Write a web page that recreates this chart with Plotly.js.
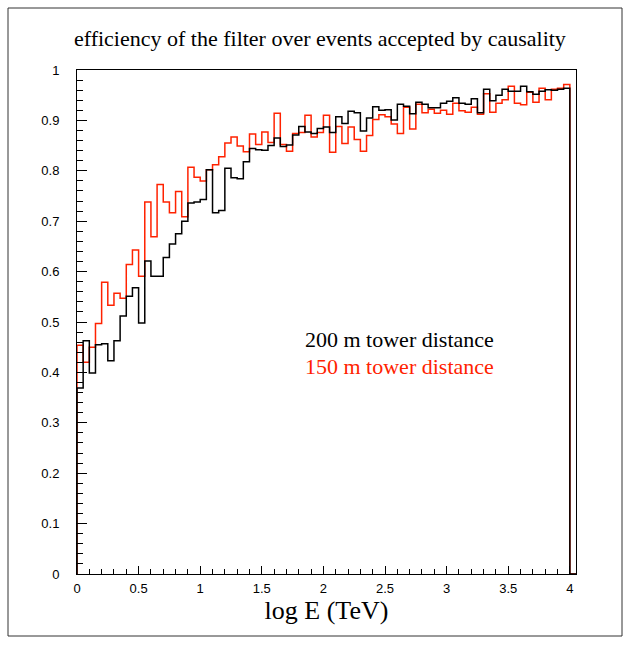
<!DOCTYPE html>
<html>
<head>
<meta charset="utf-8">
<script src="https://cdn.plot.ly/plotly-3.0.1.min.js"></script>
<style>
  html, body { margin: 0; padding: 0; background: #ffffff; }
  #chart { width: 631px; height: 646px; }
</style>
</head>
<body>
<div id="chart"></div>
<script>
// Histogram binning: 0 .. 4 in log E (TeV), 0.05 wide bins (axis runs to 4.05)
const binStart = 0;
const binWidth = 0.05;
const axisMax = 4.05;

// efficiency, 200 m tower distance (black)
const eff200m = [
  0.369, 0.463, 0.399, 0.455, 0.457, 0.423, 0.463, 0.512, 0.551, 0.568,
  0.498, 0.621, 0.591, 0.591, 0.628, 0.655, 0.675, 0.700, 0.736, 0.738,
  0.743, 0.802, 0.717, 0.721, 0.805, 0.786, 0.784, 0.818, 0.844, 0.842,
  0.841, 0.850, 0.865, 0.848, 0.851, 0.871, 0.888, 0.877, 0.874, 0.884,
  0.887, 0.876, 0.907, 0.894, 0.918, 0.915, 0.879, 0.905, 0.927, 0.920,
  0.921, 0.901, 0.932, 0.928, 0.913, 0.936, 0.932, 0.925, 0.925, 0.934,
  0.938, 0.945, 0.934, 0.932, 0.943, 0.915, 0.962, 0.939, 0.950, 0.962,
  0.958, 0.958, 0.968, 0.957, 0.952, 0.958, 0.961, 0.960, 0.962, 0.964
];

// efficiency, 150 m tower distance (red)
const eff150m = [
  0.454, 0.420, 0.450, 0.497, 0.579, 0.533, 0.557, 0.547, 0.614, 0.643,
  0.591, 0.738, 0.669, 0.773, 0.738, 0.717, 0.759, 0.709, 0.807, 0.787,
  0.780, 0.802, 0.812, 0.828, 0.855, 0.867, 0.849, 0.838, 0.873, 0.852,
  0.877, 0.856, 0.914, 0.852, 0.839, 0.874, 0.876, 0.910, 0.867, 0.876,
  0.910, 0.837, 0.888, 0.854, 0.887, 0.862, 0.839, 0.870, 0.902, 0.911,
  0.907, 0.893, 0.874, 0.926, 0.883, 0.932, 0.915, 0.922, 0.914, 0.920,
  0.912, 0.934, 0.919, 0.916, 0.926, 0.912, 0.953, 0.916, 0.934, 0.941,
  0.968, 0.934, 0.931, 0.956, 0.936, 0.964, 0.941, 0.962, 0.964, 0.971
];

const yTickVals = [0, 0.1, 0.2, 0.3, 0.4, 0.5, 0.6, 0.7, 0.8, 0.9, 1];
const yTickText = ["0", "0.1", "0.2", "0.3", "0.4", "0.5", "0.6", "0.7", "0.8", "0.9", "1"];
const xTickVals = [0, 0.5, 1, 1.5, 2, 2.5, 3, 3.5, 4];
const xTickText = ["0", "0.5", "1", "1.5", "2", "2.5", "3", "3.5", "4"];

const titleText = "efficiency of the filter over events accepted by causality";
const xTitleText = "log E (TeV)";
const label200 = "200 m tower distance";
const label150 = "150 m tower distance";

// Build a ROOT-like histogram outline (starts and ends on zero)
function histOutline(vals) {
  const xs = [binStart], ys = [0];
  for (let i = 0; i < vals.length; i++) {
    xs.push(binStart + i * binWidth);
    ys.push(vals[i]);
  }
  const end = binStart + vals.length * binWidth;
  xs.push(end); ys.push(0);
  xs.push(axisMax); ys.push(0);
  return {x: xs, y: ys};
}

const h150 = histOutline(eff150m);
const h200 = histOutline(eff200m);

const traces = [
  {x: h150.x, y: h150.y, type: 'scatter', mode: 'lines', line: {shape: 'hv', color: '#ff2200', width: 1.5}, hoverinfo: 'skip', showlegend: false},
  {x: h200.x, y: h200.y, type: 'scatter', mode: 'lines', line: {shape: 'hv', color: '#000000', width: 1.5}, hoverinfo: 'skip', showlegend: false}
];

const M = {l: 77, r: 55, t: 70, b: 72};
const W = 631, H = 646;
const pw = W - M.l - M.r, ph = H - M.t - M.b;
function px2paperX(px) { return (px - M.l) / pw; }
function py2paperY(py) { return (H - M.b - py) / ph; }

const layout = {
  width: W, height: H,
  margin: M,
  paper_bgcolor: '#ffffff',
  plot_bgcolor: '#ffffff',
  showlegend: false,
  title: {
    text: titleText,
    font: {family: 'Liberation Serif, Times New Roman, serif', size: 22, color: '#000000'},
    x: 0.507, xanchor: 'center',
    y: 1 - 38 / H, yanchor: 'middle'
  },
  xaxis: {
    range: [0, axisMax],
    tickmode: 'array', tickvals: xTickVals, ticktext: xTickText,
    ticks: 'inside', ticklen: 8, tickwidth: 1, tickcolor: '#000000',
    minor: {dtick: 0.1, tick0: 0, ticks: 'inside', ticklen: 5, tickcolor: '#000000', tickwidth: 1, showgrid: false},
    showline: true, linecolor: '#000000', linewidth: 1, mirror: true,
    showgrid: false, zeroline: false,
    tickfont: {family: 'Liberation Sans, Arial, sans-serif', size: 13, color: '#000000'},
    ticklabelstandoff: 2,
    title: {text: xTitleText, font: {family: 'Liberation Serif, Times New Roman, serif', size: 26, color: '#000000'}, standoff: 6}
  },
  yaxis: {
    range: [0, 1],
    tickmode: 'array', tickvals: yTickVals, ticktext: yTickText,
    ticks: 'inside', ticklen: 10, tickwidth: 1, tickcolor: '#000000',
    minor: {dtick: 0.02, tick0: 0, ticks: 'inside', ticklen: 6, tickcolor: '#000000', tickwidth: 1, showgrid: false},
    showline: true, linecolor: '#000000', linewidth: 1, mirror: true,
    showgrid: false, zeroline: false,
    tickfont: {family: 'Liberation Sans, Arial, sans-serif', size: 13, color: '#000000'},
    ticklabelstandoff: 14
  },
  annotations: [
    {text: label200, x: 1.836, y: 0.465, xref: 'x', yref: 'y', xanchor: 'left', yanchor: 'middle', showarrow: false,
     font: {family: 'Liberation Serif, Times New Roman, serif', size: 22, color: '#000000'}},
    {text: label150, x: 1.836, y: 0.412, xref: 'x', yref: 'y', xanchor: 'left', yanchor: 'middle', showarrow: false,
     font: {family: 'Liberation Serif, Times New Roman, serif', size: 22, color: '#ff2200'}}
  ],
  shapes: [
    {type: 'rect', xref: 'paper', yref: 'paper',
     x0: px2paperX(8), x1: px2paperX(622), y0: py2paperY(636), y1: py2paperY(8),
     line: {color: '#333333', width: 1}, fillcolor: 'rgba(0,0,0,0)', layer: 'below'}
  ]
};

Plotly.newPlot('chart', traces, layout, {staticPlot: true, displayModeBar: false});
</script>
</body>
</html>
